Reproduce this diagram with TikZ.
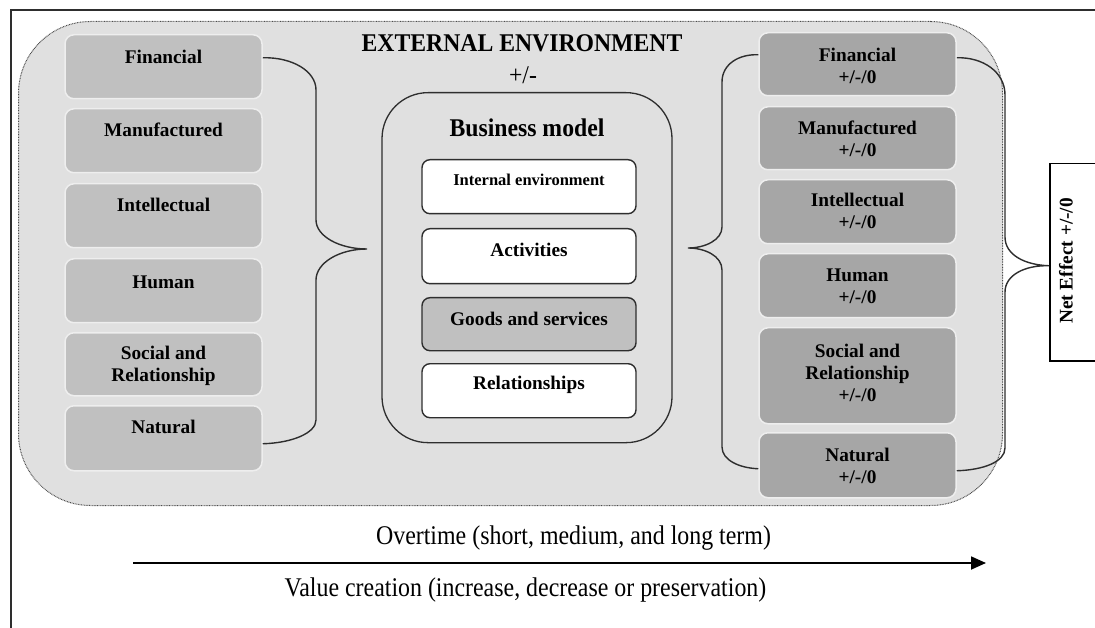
\documentclass[tikz,border=0pt]{standalone}
\usepackage{fontspec}
\setmainfont{Liberation Serif}
\newfontfamily\titlefont{Liberation Serif}[FakeStretch=0.93]
\newfontfamily\bottomfont{Liberation Serif}[FakeStretch=0.885]
\usetikzlibrary{arrows.meta}
\definecolor{envfill}{HTML}{E0E0E0}
\definecolor{lboxfill}{HTML}{C0C0C0}
\definecolor{rboxfill}{HTML}{A6A6A6}
\definecolor{linegray}{HTML}{2E2E2E}
\definecolor{boxedge}{HTML}{EEEEEE}
\tikzset{
  frame/.style={draw=linegray, line width=1.8pt},
  env/.style={rectangle, rounded corners=72pt, fill=envfill, draw=gray!60!black,
    dash pattern=on 0.8pt off 0.8pt, line width=1pt, inner sep=0pt},
  lbox/.style={rectangle, rounded corners=9pt, fill=lboxfill, draw=boxedge,
    line width=1.5pt, minimum width=197pt, inner sep=0pt, anchor=north},
  rbox/.style={lbox, fill=rboxfill},
  bmodel/.style={rectangle, rounded corners=46pt, draw=linegray, line width=1.3pt,
    minimum width=290pt, minimum height=350pt, inner sep=0pt, anchor=north},
  ibox/.style={rectangle, rounded corners=8pt, fill=white, draw=linegray,
    line width=1.4pt, minimum width=214pt, inner sep=0pt, anchor=north},
  netbox/.style={rectangle, fill=white, draw=black, line width=1.5pt,
    minimum width=50pt, minimum height=197pt, inner sep=0pt, anchor=north west},
  lbl/.style={font=\fontsize{19.3}{22}\selectfont\bfseries, align=center, inner sep=0pt},
  title/.style={font=\titlefont\fontsize{25.5}{28}\selectfont\bfseries, inner sep=0pt},
  btxt/.style={font=\bottomfont\fontsize{27}{30}\selectfont, inner sep=0pt},
  pmtxt/.style={font=\titlefont\fontsize{25.5}{28}\selectfont, inner sep=0pt},
  brace/.style={draw=linegray, line width=1.4pt},
  timearrow/.style={draw=black, line width=1.8pt, -{Triangle[length=15pt,width=13pt]}}
}
\begin{document}
\begin{tikzpicture}[x=1pt,y=-1pt]
\useasboundingbox (0,0) rectangle (1095,628);
\clip (0,0) rectangle (1095,628);
\fill[white] (0,0) rectangle (1095,628);
% outer frame (top and left sides visible)
\draw[frame] (11,650) -- (11,10) -- (1110,10);
% external environment
\node[env, minimum width=984pt, minimum height=484pt, anchor=north west] (env) at (18,21) {};
\node[title] (envt) at (522,43) {EXTERNAL ENVIRONMENT};
\node[pmtxt] (envpm) at (523,75) {+/-};
% left capitals
\node[lbox, minimum height=64pt] (lf) at (163.5,34) {};
\node[lbox, minimum height=64pt] (lm) at (163.5,108) {};
\node[lbox, minimum height=64pt] (li) at (163.5,183) {};
\node[lbox, minimum height=64pt] (lh) at (163.5,258) {};
\node[lbox, minimum height=63pt] (ls) at (163.5,332) {};
\node[lbox, minimum height=65pt] (ln) at (163.5,405) {};
\node[lbl] (lft) at (163.5,57) {Financial};
\node[lbl] (lmt) at (163.5,130) {Manufactured};
\node[lbl] (lit) at (163.5,205) {Intellectual};
\node[lbl] (lht) at (163.5,282) {Human};
\node[lbl] (lst) at (163.5,366) {Social and\\Relationship};
\node[lbl] (lnt) at (163.5,427) {Natural};
% right capitals
\node[rbox, minimum height=63pt] (rf) at (857.5,32) {};
\node[rbox, minimum height=63pt] (rm) at (857.5,106) {};
\node[rbox, minimum height=64pt] (ri) at (857.5,179) {};
\node[rbox, minimum height=64pt] (rh) at (857.5,253) {};
\node[rbox, minimum height=96pt] (rs) at (857.5,327) {};
\node[rbox, minimum height=65pt] (rn) at (857.5,432) {};
\node[lbl] (rft) at (857.5,66) {Financial\\+/-/0};
\node[lbl] (rmt) at (857.5,139) {Manufactured\\+/-/0};
\node[lbl] (rit) at (857.5,211) {Intellectual\\+/-/0};
\node[lbl] (rht) at (857.5,286) {Human\\+/-/0};
\node[lbl] (rst) at (857.5,372.5) {Social and\\Relationship\\+/-/0};
\node[lbl] (rnt) at (857.5,465.5) {Natural\\+/-/0};
% business model
\node[bmodel] (bm) at (527,92) {};
\node[title] (bmt) at (527,128) {Business model};
\node[ibox, minimum height=54pt] (ie) at (529,159) {};
\node[ibox, minimum height=55pt] (ac) at (529,228) {};
\node[ibox, minimum height=53pt, fill=lboxfill] (gs) at (529,297) {};
\node[ibox, minimum height=54pt] (re) at (529,363) {};
\node[lbl, font=\fontsize{16.5}{20}\selectfont\bfseries] (iet) at (529,180) {Internal environment};
\node[lbl] (act) at (529,250) {Activities};
\node[lbl] (gst) at (529,319) {Goods and services};
\node[lbl] (ret) at (529,385) {Relationships};
% net effect
\node[netbox] (net) at (1049,163) {};
\node[lbl, rotate=90] (nett) at (1066,261) {Net Effect +/-/0};
% braces
\coordinate (lbs) at ([yshift=9pt]lf.east);
\coordinate (lbe) at ([yshift=-5.5pt]ln.east);
\coordinate (lbt) at (367,249);
\draw[brace] (lbs) .. controls (292,57) and (316,71) .. (316,90) -- (316,220)
  .. controls (316,236) and (339,249) .. (lbt)
  .. controls (339,249) and (316,263) .. (316,280) -- (316,420)
  .. controls (316,433) and (292,443) .. (lbe);
\coordinate (mbs) at ([yshift=9.5pt]rf.west);
\coordinate (mbe) at ([yshift=-3.5pt]rn.west);
\coordinate (mbt) at (688,248);
\draw[brace] (mbs) .. controls (739,54) and (722,64) .. (722,82) -- (722,227)
  .. controls (722,240) and (705,248) .. (mbt)
  .. controls (705,248) and (722,256) .. (722,270) -- (722,447)
  .. controls (722,460) and (739,468) .. (mbe);
\coordinate (rbs) at ([yshift=6.5pt]rf.east);
\coordinate (rbe) at ([yshift=-5.5pt]rn.east);
\coordinate (rbt) at ([yshift=-3.5pt]net.west);
\draw[brace] (rbs) .. controls (983,57) and (1005,72) .. (1005,95) -- (1005,237)
  .. controls (1005,255) and (1025,265) .. (rbt)
  .. controls (1025,265) and (1005,275) .. (1005,292) -- (1005,448)
  .. controls (1005,462) and (983,470) .. (rbe);
% time arrow
\coordinate (a0) at (133,563);
\coordinate (a1) at (986,563);
\draw[timearrow] (a0) -- (a1);
\node[btxt] (ot) at (573.5,538) {Overtime (short, medium, and long term)};
\node[btxt] (vc) at (525.5,590) {Value creation (increase, decrease or preservation)};
\end{tikzpicture}
\end{document}
